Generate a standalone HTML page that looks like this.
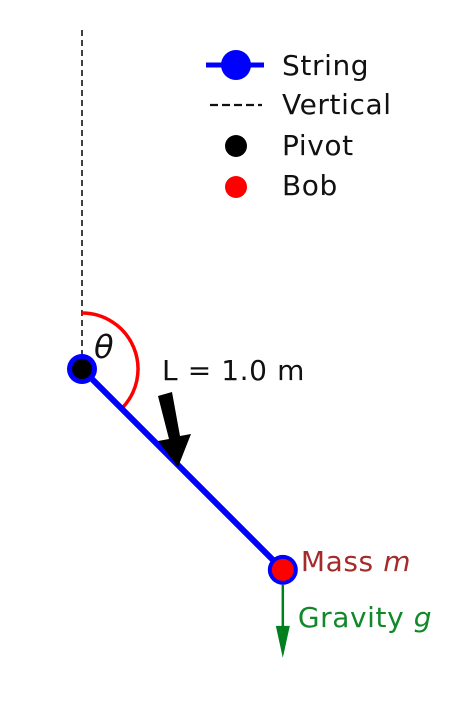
<!DOCTYPE html>
<html><head><meta charset="utf-8"><style>
html,body{margin:0;padding:0;background:#fff;}
svg{display:block;font-family:"DejaVu Sans","Liberation Sans",sans-serif;}
svg text{letter-spacing:0.6px;}
</style></head><body>
<svg id="chart" width="476" height="708" viewBox="0 0 476 708" xmlns="http://www.w3.org/2000/svg">
<g id="legend">
  <g>
    <line x1="206" y1="65" x2="264" y2="65" stroke="#0000ff" stroke-width="5"/>
    <circle cx="236" cy="65" r="15" fill="#0000ff"/>
    <text x="282" y="75" font-size="28" fill="#111">String</text>
  </g>
  <g>
    <line x1="210" y1="105" x2="262" y2="105" stroke="#111" stroke-width="2.2" stroke-dasharray="8,4"/>
    <text x="282" y="114" font-size="28" fill="#111">Vertical</text>
  </g>
  <g>
    <circle cx="236" cy="146" r="11" fill="#000"/>
    <text x="282" y="155" font-size="28" fill="#111">Pivot</text>
  </g>
  <g>
    <circle cx="236" cy="187" r="11" fill="#ff0000"/>
    <text x="282" y="195" font-size="28" fill="#111">Bob</text>
  </g>
</g>
<g id="plot"></g>
</svg>
<script>
const thetaDeg = [45];
const lengthM = [1.0];
const labels = ["L = 1.0 m", "θ"];
const NS = "http://www.w3.org/2000/svg";
const pivot = {x: 82, y: 369};
const pxPerM = 284;
function sx(m, ang){ return pivot.x + m*pxPerM*Math.sin(ang*Math.PI/180); }
function sy(m, ang){ return pivot.y + m*pxPerM*Math.cos(ang*Math.PI/180); }
const g = document.getElementById('plot');
function mk(tag, attrs){ const e=document.createElementNS(NS,tag); for(const k in attrs) e.setAttribute(k,attrs[k]); g.appendChild(e); return e; }
const th = thetaDeg[0], L = lengthM[0];
const bx = sx(L, th), by = sy(L, th);
let e;
e = mk('line',{x1:pivot.x,y1:30,x2:pivot.x,y2:pivot.y,stroke:'#111','stroke-width':1.6,'stroke-dasharray':'6,4'});


const r = 56;
const a0x = pivot.x, a0y = pivot.y - r;
const a1x = pivot.x + r*Math.sin(th*Math.PI/180), a1y = pivot.y + r*Math.cos(th*Math.PI/180);
const large = (180-th) > 180 ? 1 : 0;
e = mk('path',{d:`M${a0x},${a0y} A${r},${r} 0 ${large} 1 ${a1x},${a1y}`,fill:'none',stroke:'#ff0000','stroke-width':3.5});


e = mk('line',{x1:pivot.x,y1:pivot.y,x2:bx,y2:by,stroke:'#0000ff','stroke-width':6});


e = mk('circle',{cx:pivot.x,cy:pivot.y,r:15,fill:'#0000ff'});


e = mk('circle',{cx:pivot.x,cy:pivot.y,r:10,fill:'#000'});


e = mk('circle',{cx:bx,cy:by,r:15,fill:'#0000ff'});


e = mk('circle',{cx:bx,cy:by,r:11,fill:'#ff0000'});


e = mk('text',{x:pivot.x+12,y:pivot.y-11,'font-size':32,'font-style':'italic',fill:'#111'});
e.textContent = labels[1];


e = mk('text',{x:162,y:380,'font-size':28,fill:'#111'});
e.textContent = labels[0];


e = mk('polygon',{points:'158,396 172,392 180,436 191,434 178,467 158,441 169,439',fill:'#000'});


e = mk('text',{x:bx+18,y:by+1,'font-size':28,fill:'#a52a2a'});
e.innerHTML = 'Mass <tspan font-style="italic">m</tspan>';


e = mk('line',{x1:bx,y1:by+15,x2:bx,y2:by+62,stroke:'#007f1f','stroke-width':2.5});


e = mk('polygon',{points:`${bx-7},${by+56} ${bx+7},${by+56} ${bx},${by+88}`,fill:'#007f1f'});


e = mk('text',{x:bx+15,y:by+57,'font-size':28,fill:'#11882a'});
e.innerHTML = 'Gravity <tspan font-style="italic">g</tspan>';


</script>
</body></html>
